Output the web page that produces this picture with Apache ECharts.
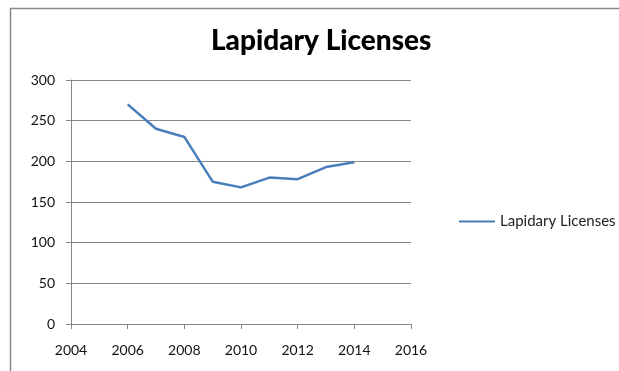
<!DOCTYPE html>
<html>
<head>
<meta charset="utf-8">
<script src="https://cdn.jsdelivr.net/npm/echarts@6/dist/echarts.min.js"></script>
<style>
html,body{margin:0;padding:0;background:#fff;}
#chart{width:619px;height:371px;}
</style>
</head>
<body>
<div id="chart"></div>
<script>
// Licence counts per year
const years = [2006, 2007, 2008, 2009, 2010, 2011, 2012, 2013, 2014];
const licenses = [270, 240, 230, 175, 168, 180, 178, 193, 199];
const seriesName = 'Lapidary Licenses';
const titleText = 'Lapidary Licenses';

const points = years.map((y, i) => [y, licenses[i]]);
const labelFont = 'Lato, "Open Sans", sans-serif';

const chart = echarts.init(document.getElementById('chart'), null, {renderer: 'canvas'});
chart.setOption({
  animation: false,
  backgroundColor: '#fff',
  title: {
    text: titleText,
    left: 206,
    top: 22,
    textStyle: {fontFamily: labelFont, fontWeight: 900, fontSize: 28, color: '#000'}
  },
  legend: {
    orient: 'vertical',
    left: 454,
    top: 209,
    itemWidth: 36,
    itemHeight: 14,
    itemGap: 4,
    icon: 'path://M0,6 L36,6 L36,8 L0,8 Z',
    textStyle: {fontFamily: labelFont, fontSize: 15, color: '#222'},
    data: [seriesName]
  },
  grid: {left: 71, right: 208, top: 80, bottom: 47},
  xAxis: {
    type: 'value',
    min: 2004,
    max: 2016,
    interval: 2,
    axisLine: {show: true, lineStyle: {color: '#888', width: 1}},
    axisTick: {show: true, length: 5, lineStyle: {color: '#888'}},
    axisLabel: {fontFamily: labelFont, fontSize: 14, color: '#111', margin: 19,
      formatter: v => String(v)},
    splitLine: {show: false}
  },
  yAxis: {
    type: 'value',
    min: 0,
    max: 300,
    interval: 50,
    axisLine: {show: true, lineStyle: {color: '#888', width: 1}},
    axisTick: {show: true, length: 5, lineStyle: {color: '#888'}},
    axisLabel: {fontFamily: labelFont, fontSize: 14, color: '#111', margin: 16},
    splitLine: {show: true, lineStyle: {color: '#888', width: 1}}
  },
  series: [{
    name: seriesName,
    type: 'line',
    data: points,
    showSymbol: false,
    symbol: 'none',
    lineStyle: {color: '#4a7ebb', width: 2.5},
    itemStyle: {color: '#4a7ebb'}
  }],
  graphic: [
    {type: 'line', shape: {x1: 10.5, y1: 8, x2: 10.5, y2: 371}, style: {stroke: '#8a8a8a', lineWidth: 1.5}},
    {type: 'line', shape: {x1: 10, y1: 8.5, x2: 619, y2: 8.5}, style: {stroke: '#8a8a8a', lineWidth: 1.5}}
  ]
});
</script>
</body>
</html>
